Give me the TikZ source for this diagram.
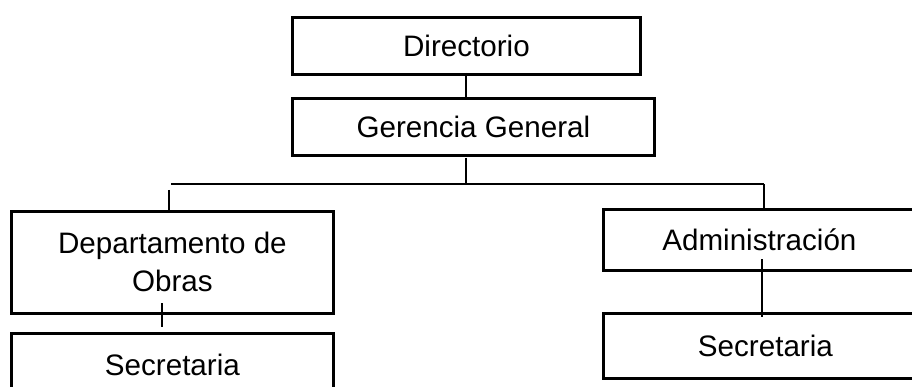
\documentclass[tikz,border=0pt]{standalone}
\usepackage{fontspec}
\setmainfont{Liberation Sans}
\begin{document}
\begin{tikzpicture}[x=1pt,y=-1pt,
  orgbox/.style={draw=black,line width=2.8pt,rectangle,inner sep=0pt,anchor=north west,
    font=\fontsize{29.6}{38}\selectfont,align=center},
  link/.style={draw=black,line width=1.1pt}]
\useasboundingbox (0,0) rectangle (912,387);
% boxes
\node[orgbox,minimum width=348pt,minimum height=57pt] (dir) at (291,16) {Directorio};
\node[orgbox,minimum width=362pt,minimum height=57pt] (ger) at (291,97) {Gerencia General};
\node[orgbox,minimum width=322pt,minimum height=102pt] (obr) at (10,210) {Departamento de\\[0pt]Obras};
\node[orgbox,minimum width=322pt,minimum height=64pt] (secl) at (10,332) {Secretaria};
\node[orgbox,minimum width=312pt,minimum height=61pt] (adm) at (602,208) {Administración};
\node[orgbox,minimum width=324pt,minimum height=65pt] (secr) at (602,312) {Secretaria};
% bus coordinates
\coordinate (busM) at (466,184);
\coordinate (busL) at (171,184);
\coordinate (busR) at (764,184);
% connectors
\draw[link] (466,73) -- (466,97);
\draw[link] (466,158) -- (busM);
\draw[link] (busL) -- (busR);
\draw[link] (169,190) -- (169,210);
\draw[link] (busR) -- (764,208);
\draw[link] (162,303) -- (162,327);
\draw[link] (762,259) -- (762,317);
\end{tikzpicture}
\end{document}
